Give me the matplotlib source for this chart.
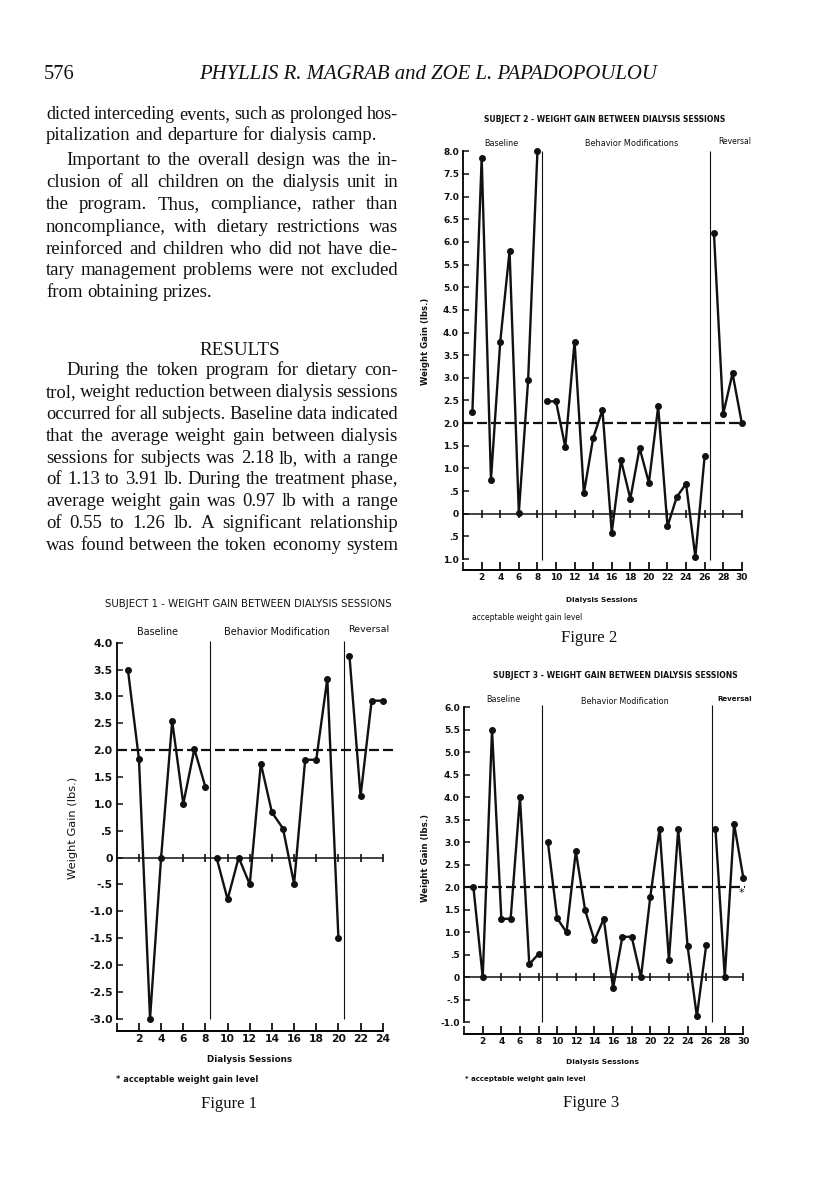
import numpy as np
import matplotlib
matplotlib.use("Agg")
import matplotlib.pyplot as plt
from matplotlib import font_manager

# === CONFIGURATION ===
W, H, DPI = 816, 1195, 100
INK = "#111111"
names = {f.name for f in font_manager.fontManager.ttflist}
NARROW = "Liberation Sans Narrow" in names
SANS = "Liberation Sans Narrow" if NARROW else "DejaVu Sans"
SERIF = "Liberation Serif"
K = 1.0 if NARROW else 0.9   # tick font scale depending on font width

# === DATA ===
ACCEPT = 2.0

s1_sessions = list(range(1, 25))
s1_gain = [3.5, 1.83, -3.0, 0.0, 2.54, 1.0, 2.02, 1.31,
           0.0, -0.78, 0.0, -0.5, 1.75, 0.84, 0.54, -0.49, 1.82, 1.82, 3.33, -1.5,
           3.75, 1.14, 2.92, 2.92]
s1_breaks = [8.4, 20.5]
s1_ylabels = ["-3.0", "-2.5", "-2.0", "-1.5", "-1.0", "-.5", "0", ".5",
              "1.0", "1.5", "2.0", "2.5", "3.0", "3.5", "4.0"]

s2_sessions = list(range(1, 31))
s2_gain = [2.25, 7.85, 0.75, 3.8, 5.8, 0.02, 2.95, 8.0,
           2.48, 2.48, 1.47, 3.8, 0.45, 1.67, 2.29, -0.42, 1.18, 0.33, 1.45, 0.68,
           2.37, -0.28, 0.37, 0.66, -0.96, 1.27,
           6.2, 2.2, 3.1, 2.0]
s2_breaks = [8.54, 26.58]
s2_ylabels = ["1.0", ".5", "0", ".5", "1.0", "1.5", "2.0", "2.5", "3.0", "3.5",
              "4.0", "4.5", "5.0", "5.5", "6.0", "6.5", "7.0", "7.5", "8.0"]

s3_sessions = list(range(1, 31))
s3_gain = [2.0, 0.0, 5.5, 1.3, 1.3, 4.0, 0.29, 0.52,
           3.0, 1.31, 1.0, 2.8, 1.49, 0.82, 1.3, -0.24, 0.9, 0.9, 0.0, 1.79,
           3.3, 0.38, 3.3, 0.7, -0.87, 0.71,
           3.3, 0.0, 3.41, 2.2]
s3_breaks = [8.41, 26.6]
s3_ylabels = ["-1.0", "-.5", "0", ".5", "1.0", "1.5", "2.0", "2.5", "3.0",
              "3.5", "4.0", "4.5", "5.0", "5.5", "6.0"]

para1 = ["dicted interceding events, such as prolonged hos-",
         "pitalization and departure for dialysis camp.",
         "Important to the overall design was the in-",
         "clusion of all children on the dialysis unit in",
         "the program. Thus, compliance, rather than",
         "noncompliance, with dietary restrictions was",
         "reinforced and children who did not have die-",
         "tary management problems were not excluded",
         "from obtaining prizes."]
para2 = ["During the token program for dietary con-",
         "trol, weight reduction between dialysis sessions",
         "occurred for all subjects. Baseline data indicated",
         "that the average weight gain between dialysis",
         "sessions for subjects was 2.18 lb, with a range",
         "of 1.13 to 3.91 lb. During the treatment phase,",
         "average weight gain was 0.97 lb with a range",
         "of 0.55 to 1.26 lb. A significant relationship",
         "was found between the token economy system"]

fig = plt.figure(figsize=(W / DPI, H / DPI), dpi=DPI)
fig.patch.set_facecolor("white")
renderer = fig.canvas.get_renderer()


def px(x, y):
    return x / W, 1 - y / H


def put(x, y, s, size, width=None, ha="center", va="center", rotation=0, **kw):
    t = fig.text(*px(x, y), s, fontsize=size, ha=ha, va=va, rotation=rotation, color=INK, **kw)
    if width:
        bb = t.get_window_extent(renderer)
        cur = bb.height if rotation else bb.width
        t.set_fontsize(size * width / cur)
    return t


def justify(line, y, x0=46, x1=398, size=13.5, last=False, indent=0):
    words = line.split()
    objs = [fig.text(0, 0, w, fontsize=size, family=SERIF, va="baseline", color=INK) for w in words]
    widths = [o.get_window_extent(renderer).width for o in objs]
    start = x0 + indent
    space = size * 0.25 * DPI / 72
    if sum(widths) + space * 0.8 * (len(words) - 1) > x1 - start:
        f = (x1 - start) / (sum(widths) + space * 0.8 * (len(words) - 1))
        for o in objs:
            o.set_fontsize(size * f)
        widths = [w * f for w in widths]
        space *= f
    gap = space if last else (x1 - start - sum(widths)) / (len(words) - 1)
    x = start
    for o, w in zip(objs, widths):
        o.set_position(px(x, y))
        x += w + gap


# === TEXT COLUMN ===
put(44, 79, "576", 12, width=31, ha="left", va="baseline", family=SERIF)
put(199, 79, "PHYLLIS R. MAGRAB and ZOE L. PAPADOPOULOU", 12, width=456, ha="left",
    va="baseline", family=SERIF, style="italic")

ys1 = [114, 135, 160, 182, 204, 226.5, 248.5, 270.5, 292]
for i, (line, y) in enumerate(zip(para1, ys1)):
    justify(line, y + 5, last=i in (1, 8), indent=20 if i == 2 else 0)
put(240, 355, "RESULTS", 12, width=80, va="baseline", family=SERIF)
ys2 = [370, 392, 414, 436, 458, 479.5, 501, 522.5, 545]
for i, (line, y) in enumerate(zip(para2, ys2)):
    justify(line, y + 5, indent=20 if i == 0 else 0)


# === CHARTS ===
def subject_chart(sessions, gains, breaks, ylabels, n, x0, sx, y0, sy, base_v,
                  ylo, yhi, vtop, vbot, dash_end, fs):
    xlim = (-2.2, n + 1.6)
    ylim = (base_v - 0.4, yhi + 0.35)
    left, right = x0 + sx * xlim[0], x0 + sx * xlim[1]
    top, bottom = y0 - sy * ylim[1], y0 - sy * ylim[0]
    ax = fig.add_axes([left / W, 1 - bottom / H, (right - left) / W, (bottom - top) / H])
    ax.set_xlim(xlim)
    ax.set_ylim(ylim)
    ax.patch.set_alpha(0)
    for s in ("top", "right"):
        ax.spines[s].set_visible(False)

    ax.spines["left"].set_position(("data", 0))
    ax.spines["left"].set_bounds(ylo, yhi)
    ax.spines["left"].set_linewidth(1.3)
    ax.spines["bottom"].set_position(("data", base_v))
    ax.spines["bottom"].set_bounds(0, n)
    ax.spines["bottom"].set_linewidth(1.4)

    yt = np.arange(ylo, yhi + 0.25, 0.5)
    ax.set_yticks(yt)
    ax.set_yticklabels(ylabels, fontsize=fs * K, family=SANS, fontweight="bold", color=INK)
    xt = list(range(0, n + 1, 2))
    ax.set_xticks(xt)
    ax.set_xticklabels([""] + [str(v) for v in xt[1:]], fontsize=fs * K, family=SANS,
                       fontweight="bold", color=INK)
    ax.tick_params(axis="y", direction="in", length=4, width=1.1, pad=3, colors=INK)
    ax.tick_params(axis="x", direction="in", length=6, width=1.3, pad=2, colors=INK)

    # zero line with crossing ticks
    ax.hlines(0, 0, n, color=INK, lw=1.1)
    ax.plot(xt[1:], np.zeros(len(xt) - 1), ls="none", marker="|", ms=6, mew=1.2, color=INK)

    # phase separators and acceptable level
    ax.vlines(breaks, vbot, vtop, color=INK, lw=0.8)
    ax.plot([0, dash_end], [ACCEPT, ACCEPT], color=INK, lw=1.6, ls=(0, (4.5, 1.8)))

    edges = [-np.inf] + list(breaks) + [np.inf]
    for a, b in zip(edges[:-1], edges[1:]):
        xs = [s for s in sessions if a < s < b]
        ys = [g for s, g in zip(sessions, gains) if a < s < b]
        ax.plot(xs, ys, "-o", color=INK, lw=1.7, ms=4.0, zorder=5)
    return ax


subject_chart(s1_sessions, s1_gain, s1_breaks, s1_ylabels, 24,
              116.8, 11.08, 857.5, 53.7, -3.24, -3.0, 4.0, 4.03, -3.0, 24.9, 8.6)
subject_chart(s2_sessions, s2_gain, s2_breaks, s2_ylabels, 30,
              463.1, 9.29, 513.7, 45.3, -1.24, -1.0, 8.0, 8.0, -1.03, 30.0, 7.2)
subject_chart(s3_sessions, s3_gain, s3_breaks, s3_ylabels, 30,
              464.1, 9.31, 977.3, 45.0, -1.26, -1.0, 6.0, 6.05, -1.0, 30.2, 7.2)

# chart annotations (figure 1)
put(248, 604, "SUBJECT 1 - WEIGHT GAIN BETWEEN DIALYSIS SESSIONS", 9, width=288, family=SANS)
put(158, 632, "Baseline", 9, width=41, family=SANS)
put(277, 632, "Behavior Modification", 9, width=106, family=SANS)
put(369, 630, "Reversal", 9, width=41, family=SANS)
put(73, 828, "Weight Gain (lbs.)", 9, width=102, rotation=90, family=SANS)
put(250, 1060, "Dialysis Sessions", 9, width=84, family=SANS, fontweight="bold")
put(116, 1080, "* acceptable weight gain level", 9, width=140, ha="left", family=SANS, fontweight="bold")
put(229, 1104, "Figure 1", 13, width=56, family=SERIF)

# figure 2
put(605, 119, "SUBJECT 2 - WEIGHT GAIN BETWEEN DIALYSIS SESSIONS", 8, width=240, family=SANS, fontweight="bold")
put(501, 143, "Baseline", 8, width=34, family=SANS)
put(632, 143, "Behavior Modifications", 8, width=93, family=SANS)
put(735, 142, "Reversal", 8, width=33, family=SANS)
put(425, 341, "Weight Gain (lbs.)", 8, width=86, rotation=90, family=SANS, fontweight="bold")
put(602, 600, "Dialysis Sessions", 8, width=71, family=SANS, fontweight="bold")
put(472, 617, "acceptable weight gain level", 8, width=110, ha="left", family=SANS)
put(589, 638, "Figure 2", 13, width=56, family=SERIF)

# figure 3
put(615, 676, "SUBJECT 3 - WEIGHT GAIN BETWEEN DIALYSIS SESSIONS", 8, width=244, family=SANS, fontweight="bold")
put(503, 700, "Baseline", 8, width=34, family=SANS)
put(625, 701, "Behavior Modification", 8, width=88, family=SANS)
put(735, 699, "Reversal", 8, width=35, family=SANS, fontweight="bold")
put(425, 858, "Weight Gain (lbs.)", 8, width=88, rotation=90, family=SANS, fontweight="bold")
put(602, 1062, "Dialysis Sessions", 8, width=72, family=SANS, fontweight="bold")
put(465, 1079, "* acceptable weight gain level", 8, width=118, ha="left", family=SANS, fontweight="bold")
put(741, 893, "*", 8, family=SANS)
put(591, 1103, "Figure 3", 13, width=56, family=SERIF)

fig.savefig("out.png", dpi=DPI, facecolor="white")
